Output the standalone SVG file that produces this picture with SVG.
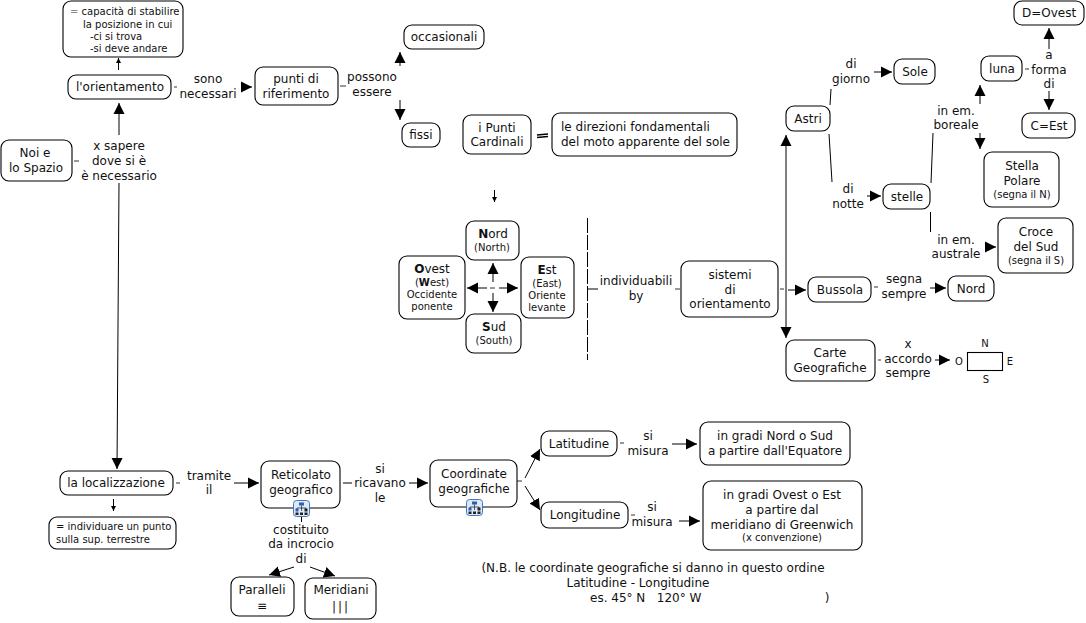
<svg xmlns="http://www.w3.org/2000/svg" width="1086" height="623" viewBox="0 0 1086 623">
<style>
text{font-family:"DejaVu Sans",Verdana,sans-serif;font-size:12px;fill:#111;text-anchor:middle}
.s{font-size:10px}
.xs{font-size:10px}
.l{text-anchor:start;white-space:pre}
.n{fill:#fff;stroke:#000;stroke-width:1.1}
.c{fill:none;stroke:#000;stroke-width:1}
.t{fill:none;stroke:#333;stroke-width:1}
.a{marker-end:url(#ah)}
.b{marker-end:url(#sm)}
</style>
<defs>
<marker id="ah" markerUnits="userSpaceOnUse" markerWidth="12" markerHeight="12" refX="11" refY="6" orient="auto"><path d="M0 0.5L11 6L0 11.500Z" fill="#000"/></marker>
<marker id="sm" markerUnits="userSpaceOnUse" markerWidth="6" markerHeight="6" refX="5" refY="3" orient="auto"><path d="M0 0.500L5 3L0 5.500Z" fill="#000"/></marker>
<g id="icon">
<rect x="0.500" y="0.500" width="16" height="16" rx="3" fill="#dbe9f8" stroke="#3f78c0"/>
<rect x="6" y="2.500" width="5" height="3" fill="#2f5fb0"/>
<path d="M8.500 5.500V11M4 11V8H13V11" fill="none" stroke="#333" stroke-width="0.800"/>
<rect x="2.500" y="8.500" width="3" height="3" fill="#2f5fb0"/>
<rect x="11.500" y="8.500" width="3" height="3" fill="#222"/>
<rect x="2.500" y="12.500" width="3" height="2.500" fill="#222"/>
<rect x="7" y="12.500" width="3" height="2.500" fill="#222"/>
<rect x="11.500" y="12.500" width="3" height="2.500" fill="#222"/>
</g>
</defs>

<g id="connectors">
<path class="t" d="M74 161H79M174 87H177M340 86H346M780 289H784M874 287H878M878 360H881M176 483H180M517 481H522M620 443H624M631 515H635M675 289H680M1025 69H1029"/>
<path class="c a" d="M119 135V103"/>
<path class="c a" d="M119 183L117 469"/>
<path class="c b" d="M118.500 70V58"/>
<path class="c a" d="M241 87H252"/>
<path class="c a" d="M400 66V52"/>
<path class="c a" d="M400 100V120"/>
<path d="M537 135L548 134M537 137.500L548 136.500" fill="none" stroke="#000" stroke-width="1.600"/>
<path class="c b" d="M494.500 190V202"/>
<path class="t" d="M490 288H495"/>
<path class="c a" d="M493 282V263"/>
<path class="c a" d="M493 293V312"/>
<path class="c a" d="M487 288H467"/>
<path class="c a" d="M499 288H518"/>
<path class="c" d="M587.500 218V360" stroke-dasharray="15 2"/>
<path class="c" d="M588 289H598"/>
<path class="c a" d="M788 290H806"/>
<path class="c a" d="M786 230V135"/>
<path class="c a" d="M786 230V338"/>
<path class="c" d="M830 105L831 89M829 134L832 182"/>
<path class="c a" d="M874 72H892"/>
<path class="c a" d="M867 196H881"/>
<path class="c" d="M931 183L933 133M930.500 212V232"/>
<path class="c a" d="M980 104V85"/>
<path class="c a" d="M980 133V149"/>
<path class="c a" d="M1049 49V28"/>
<path class="c a" d="M1049 91V110"/>
<path class="c a" d="M985 247H996"/>
<path class="c a" d="M930 288H946"/>
<path class="c a" d="M935 360H950"/>
<path class="c a" d="M234 483H259"/>
<path class="c b" d="M113.500 499V511"/>
<path class="c" d="M343 483H352"/>
<path class="c a" d="M409 483H428"/>
<path class="c a" d="M525 478L540 449"/>
<path class="c a" d="M525 486L540 510"/>
<path class="c a" d="M672 444H697"/>
<path class="c a" d="M679 521H700"/>
<path class="c" d="M301.500 517V522"/>
<path class="c a" d="M294 567L269 575"/>
<path class="c a" d="M310 567L335 576"/>
</g>

<g id="labels">
<text x="119" y="150">x sapere</text><text x="119" y="165">dove si è</text><text x="119" y="180">è necessario</text>
<text x="208" y="83">sono</text><text x="208" y="98">necessari</text>
<text x="372" y="81">possono</text><text x="372" y="96">essere</text>
<text x="636" y="285">individuabili</text><text x="636" y="300">by</text>
<text x="851" y="68">di</text><text x="851" y="83">giorno</text>
<text x="848" y="193">di</text><text x="848" y="208">notte</text>
<text x="956" y="115">in em.</text><text x="956" y="129">boreale</text>
<text x="956" y="244">in em.</text><text x="956" y="258">australe</text>
<text x="1049" y="59">a</text><text x="1049" y="74">forma</text><text x="1049" y="88">di</text>
<text x="904" y="283">segna</text><text x="904" y="298">sempre</text>
<text x="908" y="348">x</text><text x="908" y="363">accordo</text><text x="908" y="377">sempre</text>
<text x="209" y="480">tramite</text><text x="209" y="494">il</text>
<text x="380" y="473">si</text><text x="380" y="487">ricavano</text><text x="380" y="502">le</text>
<text x="648" y="440">si</text><text x="648" y="455">misura</text>
<text x="652" y="511">si</text><text x="652" y="526">misura</text>
<text x="301" y="534">costituito</text><text x="301" y="548">da incrocio</text><text x="301" y="563">di</text>
<text x="653" y="572">(N.B. le coordinate geografiche si danno in questo ordine</text>
<text x="638" y="587">Latitudine - Longitudine</text>
<text class="l" x="590" y="602">es. 45° N   120° W</text><text x="827" y="602">)</text>
</g>

<g id="n-capacita"><rect class="n" x="63" y="1" width="120" height="56" rx="8"/>
<text class="s l" x="70" y="15"><tspan fill="#888">=</tspan> capacità di stabilire</text><text class="s l" x="83" y="28">la posizione in cui</text><text class="s l" x="90" y="40">-ci si trova</text><text class="s l" x="90" y="52">-si deve andare</text></g>
<g id="n-orientamento"><rect class="n" x="68" y="75" width="103" height="24" rx="8"/><text x="120" y="91">l'orientamento</text></g>
<g id="n-punti"><rect class="n" x="255" y="67" width="83" height="38" rx="8"/><text x="296" y="83">punti di</text><text x="296" y="98">riferimento</text></g>
<g id="n-noi"><rect class="n" x="1" y="140" width="71" height="41" rx="8"/><text x="35" y="157">Noi e</text><text x="36" y="172">lo Spazio</text></g>
<g id="n-occasionali"><rect class="n" x="404" y="25" width="80" height="24" rx="8"/><text x="444" y="41">occasionali</text></g>
<g id="n-fissi"><rect class="n" x="402" y="123" width="38" height="24" rx="8"/><text x="421" y="139">fissi</text></g>
<g id="n-cardinali"><rect class="n" x="463" y="115" width="68" height="39" rx="8"/><text x="497" y="132">i Punti</text><text x="497" y="146">Cardinali</text></g>
<g id="n-direzioni"><rect class="n" x="552" y="113" width="185" height="43" rx="8"/><text class="l" x="561" y="131">le direzioni fondamentali</text><text class="l" x="561" y="146">del moto apparente del sole</text></g>
<g id="n-nord"><rect class="n" x="466" y="221" width="53" height="39" rx="8"/><text x="493" y="238"><tspan font-weight="bold">N</tspan>ord</text><text class="s" x="492" y="251">(North)</text></g>
<g id="n-ovest"><rect class="n" x="399" y="256" width="66" height="63" rx="8"/><text x="432" y="273"><tspan font-weight="bold">O</tspan>vest</text><text class="s" x="432" y="286">(<tspan font-weight="bold">W</tspan>est)</text><text class="s" x="432" y="298">Occidente</text><text class="s" x="432" y="310">ponente</text></g>
<g id="n-est"><rect class="n" x="521" y="257" width="53" height="61" rx="8"/><text x="547" y="274"><tspan font-weight="bold">E</tspan>st</text><text class="s" x="547" y="287">(East)</text><text class="s" x="547" y="299">Oriente</text><text class="s" x="547" y="311">levante</text></g>
<g id="n-sud"><rect class="n" x="466" y="314" width="55" height="39" rx="8"/><text x="494" y="331"><tspan font-weight="bold">S</tspan>ud</text><text class="s" x="494" y="344">(South)</text></g>
<g id="n-sistemi"><rect class="n" x="681" y="261" width="97" height="56" rx="8"/><text x="730" y="279">sistemi</text><text x="730" y="294">di</text><text x="730" y="308">orientamento</text></g>
<g id="n-astri"><rect class="n" x="786" y="106" width="44" height="25" rx="8"/><text x="808" y="123">Astri</text></g>
<g id="n-sole"><rect class="n" x="894" y="59" width="41" height="25" rx="8"/><text x="915" y="76">Sole</text></g>
<g id="n-stelle"><rect class="n" x="883" y="184" width="47" height="25" rx="8"/><text x="907" y="201">stelle</text></g>
<g id="n-luna"><rect class="n" x="981" y="56" width="41" height="25" rx="8"/><text x="1002" y="73">luna</text></g>
<g id="n-dovest"><rect class="n" x="1014" y="1" width="70" height="24" rx="8"/><text x="1049" y="17">D=Ovest</text></g>
<g id="n-cest"><rect class="n" x="1022" y="113" width="53" height="25" rx="8"/><text x="1049" y="130">C=Est</text></g>
<g id="n-stella"><rect class="n" x="984" y="152" width="75" height="55" rx="8"/><text x="1022" y="170">Stella</text><text x="1022" y="185">Polare</text><text class="xs" x="1022" y="198">(segna il N)</text></g>
<g id="n-croce"><rect class="n" x="998" y="218" width="75" height="55" rx="8"/><text x="1036" y="236">Croce</text><text x="1036" y="251">del Sud</text><text class="xs" x="1036" y="264">(segna il S)</text></g>
<g id="n-bussola"><rect class="n" x="808" y="277" width="63" height="25" rx="8"/><text x="840" y="294">Bussola</text></g>
<g id="n-nord2"><rect class="n" x="948" y="276" width="46" height="25" rx="8"/><text x="971" y="293">Nord</text></g>
<g id="n-carte"><rect class="n" x="786" y="340" width="89" height="41" rx="8"/><text x="830" y="357">Carte</text><text x="830" y="372">Geografiche</text></g>
<g id="n-rosa"><rect x="967.500" y="352.500" width="35" height="18" fill="#fff" stroke="#000" stroke-width="1.100"/><text class="xs" x="985" y="347">N</text><text class="xs" x="959" y="365">O</text><text class="xs" x="1010" y="365">E</text><text class="xs" x="986" y="383">S</text></g>
<g id="n-localizzazione"><rect class="n" x="60" y="471" width="113" height="24" rx="8"/><text x="116" y="487">la localizzazione</text></g>
<g id="n-individuare"><rect class="n" x="49" y="517" width="127" height="32" rx="8"/><text class="s l" x="56" y="530">= individuare un punto</text><text class="s l" x="56" y="543">sulla sup. terrestre</text></g>
<g id="n-reticolato"><rect class="n" x="261" y="461" width="79" height="47" rx="8"/><text x="301" y="479">Reticolato</text><text x="301" y="494">geografico</text><use href="#icon" x="293" y="500"/></g>
<g id="n-coordinate"><rect class="n" x="430" y="460" width="87" height="47" rx="8"/><text x="474" y="478">Coordinate</text><text x="474" y="493">geografiche</text><use href="#icon" x="466" y="499"/></g>
<g id="n-latitudine"><rect class="n" x="541" y="431" width="76" height="25" rx="8"/><text x="579" y="448">Latitudine</text></g>
<g id="n-longitudine"><rect class="n" x="541" y="502" width="87" height="26" rx="8"/><text x="585" y="519">Longitudine</text></g>
<g id="n-gradi1"><rect class="n" x="700" y="422" width="150" height="43" rx="8"/><text x="775" y="440">in gradi Nord o Sud</text><text x="775" y="455">a partire dall'Equatore</text></g>
<g id="n-gradi2"><rect class="n" x="703" y="481" width="159" height="69" rx="8"/><text x="782" y="499">in gradi Ovest o Est</text><text x="782" y="514">a partire dal</text><text x="782" y="529">meridiano di Greenwich</text><text class="xs" x="782" y="541">(x convenzione)</text></g>
<g id="n-paralleli"><rect class="n" x="231" y="577" width="63" height="39" rx="8"/><text x="262" y="594">Paralleli</text><text x="262" y="610" fill="#555">≡</text></g>
<g id="n-meridiani"><rect class="n" x="305" y="578" width="71" height="41" rx="8"/><text x="341" y="594">Meridiani</text><text x="341" y="611" letter-spacing="2">|||</text></g>
</svg>
